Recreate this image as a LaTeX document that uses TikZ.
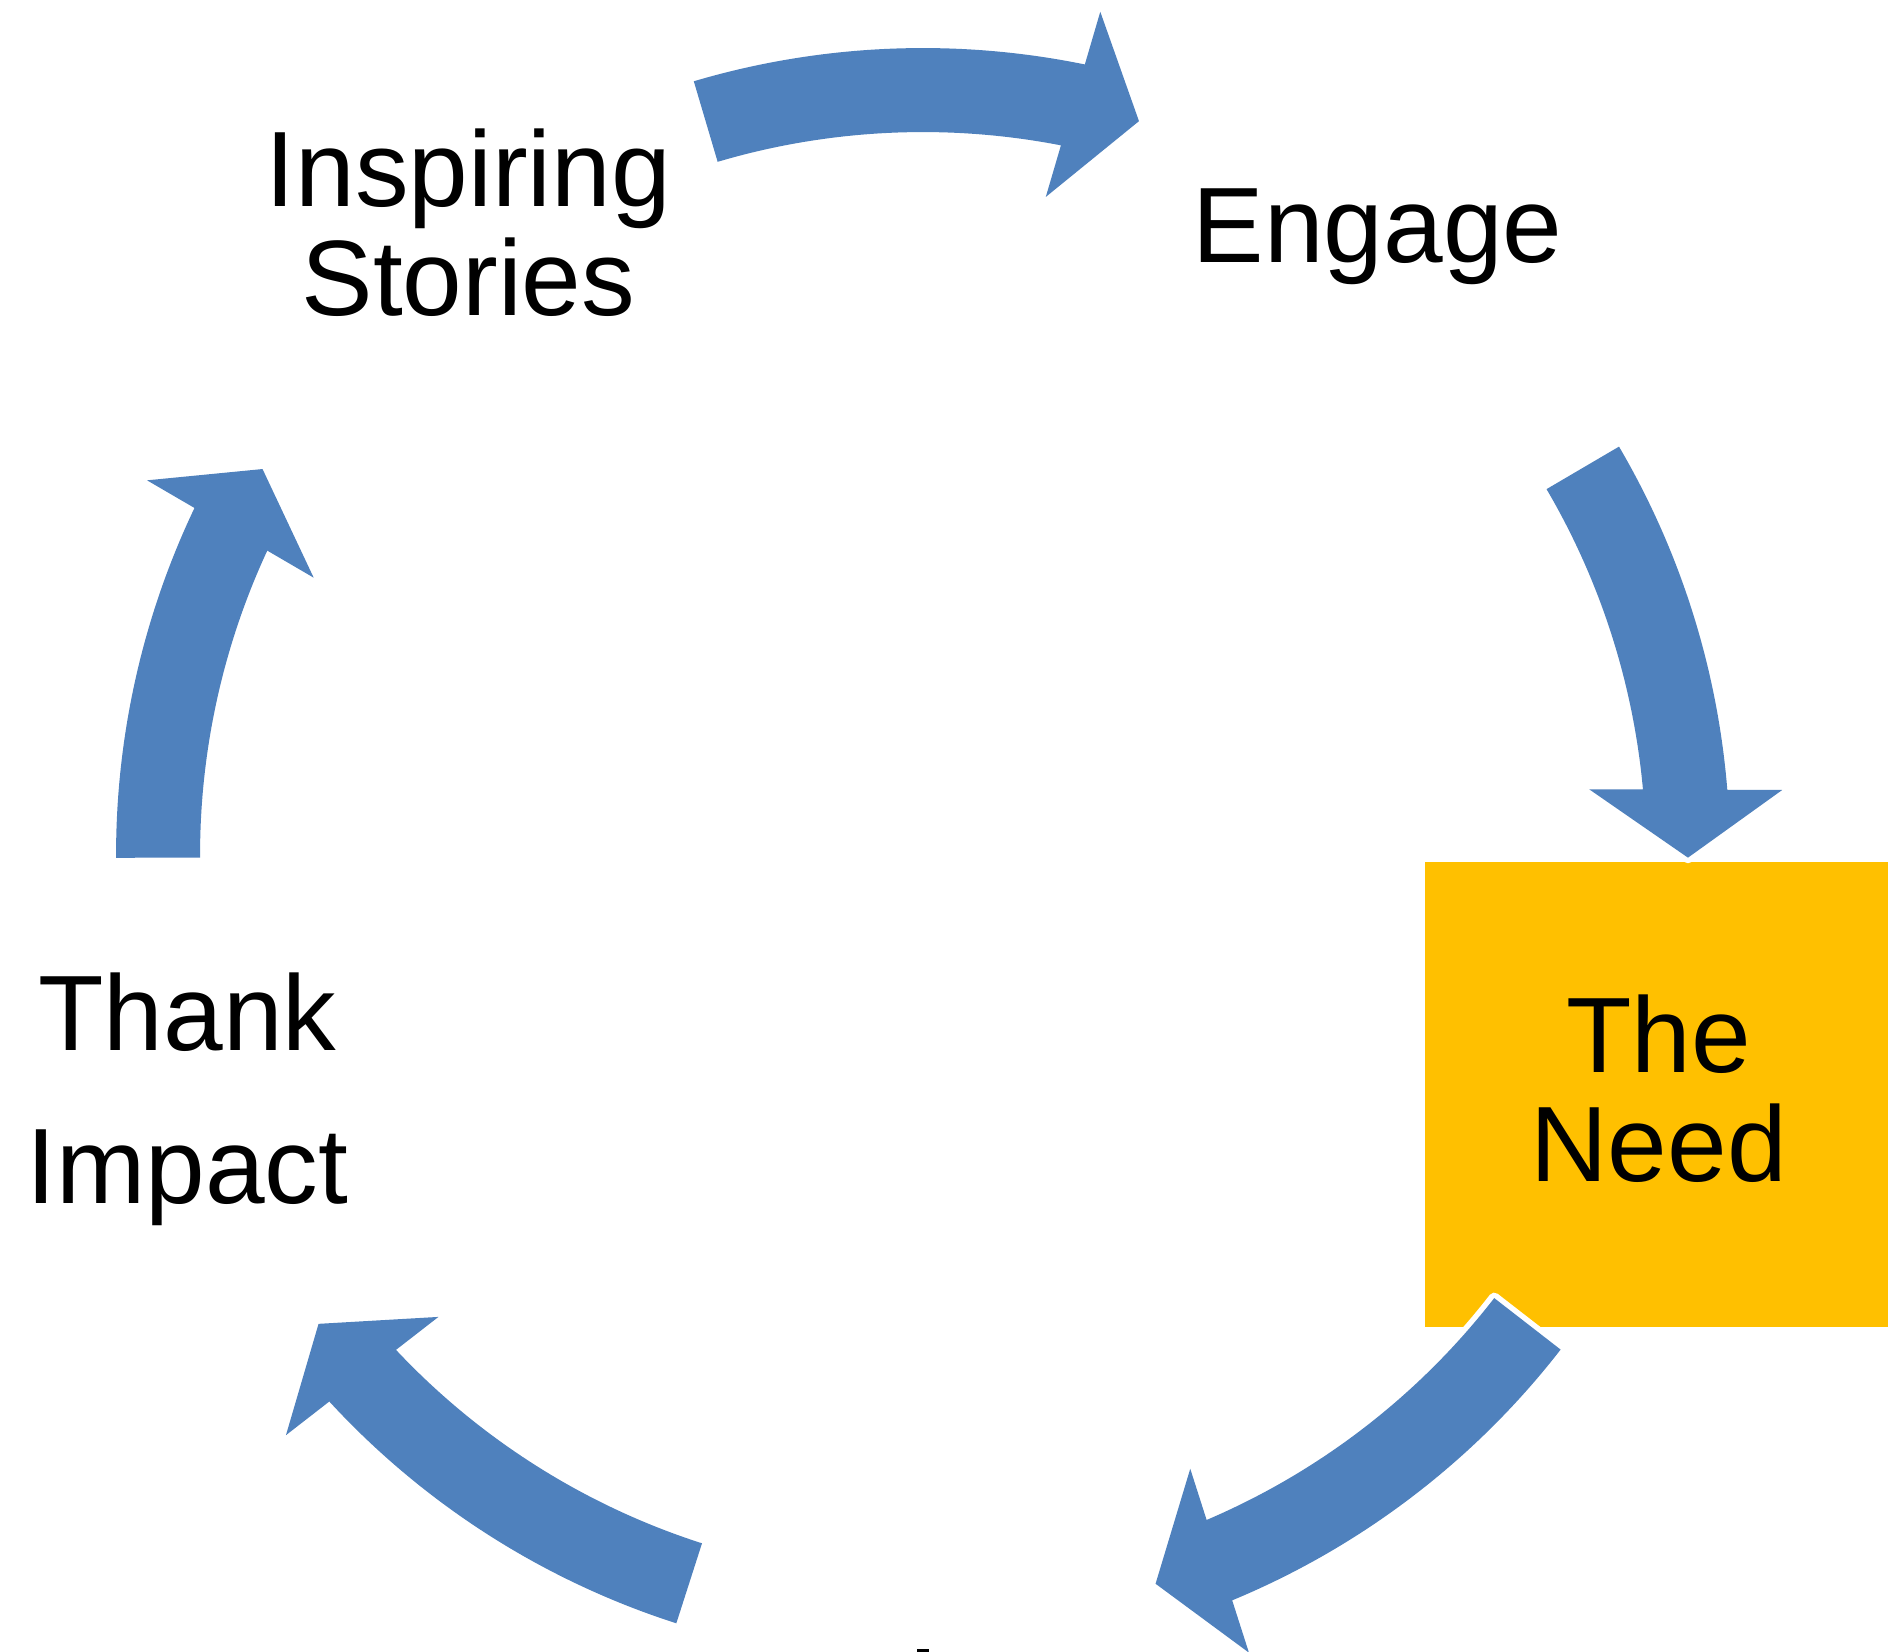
\documentclass[tikz,border=0pt]{standalone}
\usepackage{fontspec}
\setmainfont{Liberation Sans}
\usetikzlibrary{positioning}

\definecolor{cycleblue}{HTML}{4F81BD}
\definecolor{needgold}{HTML}{FFC000}

% curved block arrow on the ring: #1 = angle of the tip, #2 = angular length
\newcommand{\cyclearrow}[2]{%
    \begin{scope}[rotate=#1]
        \path[arrowfill] ({#2}:8.07) arc[start angle={#2}, end angle=4.83, radius=8.07]
            -- (8.59,0.68) -- (7.65,0) -- (6.66,0.68) -- (5.40:7.23)
            arc[start angle=5.40, end angle={#2}, radius=7.23] -- cycle;
    \end{scope}}

\begin{document}
\begin{tikzpicture}[
        arrowfill/.style={fill=cycleblue, preaction={draw=white, line width=1.1mm, line join=round}},
        step label/.style={align=center, inner sep=0pt, text=black,
            font=\fontsize{30.5}{31.2}\selectfont},
        need box/.style={fill=needgold, inner sep=0pt, minimum width=4.67cm, minimum height=4.65cm}
    ]
        \useasboundingbox (-9.23,-7.97) rectangle (9.65,8.55);

        % highlighted step first, the arrow runs over its corner
        \node [need box] (need) at (-18:7.735) {};
        \node [step label, yshift=0.055cm] (needtext) at (need) {The\\Need};

        % the five arrows, clockwise
        \cyclearrow{73.6}{32.9}
        \cyclearrow{-0.2}{30.6}
        \cyclearrow{-72.3}{34.5}
        \cyclearrow{217.8}{34.4}
        \cyclearrow{149.7}{30.5}

        % other steps
        \node [step label, yshift=0.065cm] (stories) at (126:7.735) {Inspiring\\Stories};
        \node [step label, yshift=-0.08cm] (engage) at (54:7.735) {Engage};
        \node [step label, yshift=-0.05cm] (impact) at (198:7.735) {Thank\\[0.43cm]Impact};

        % last step, only a bit of it shows at the bottom edge
        \fill[black] (-0.06,-7.94) rectangle (0.06,-8.0);
    \end{tikzpicture}
\end{document}
